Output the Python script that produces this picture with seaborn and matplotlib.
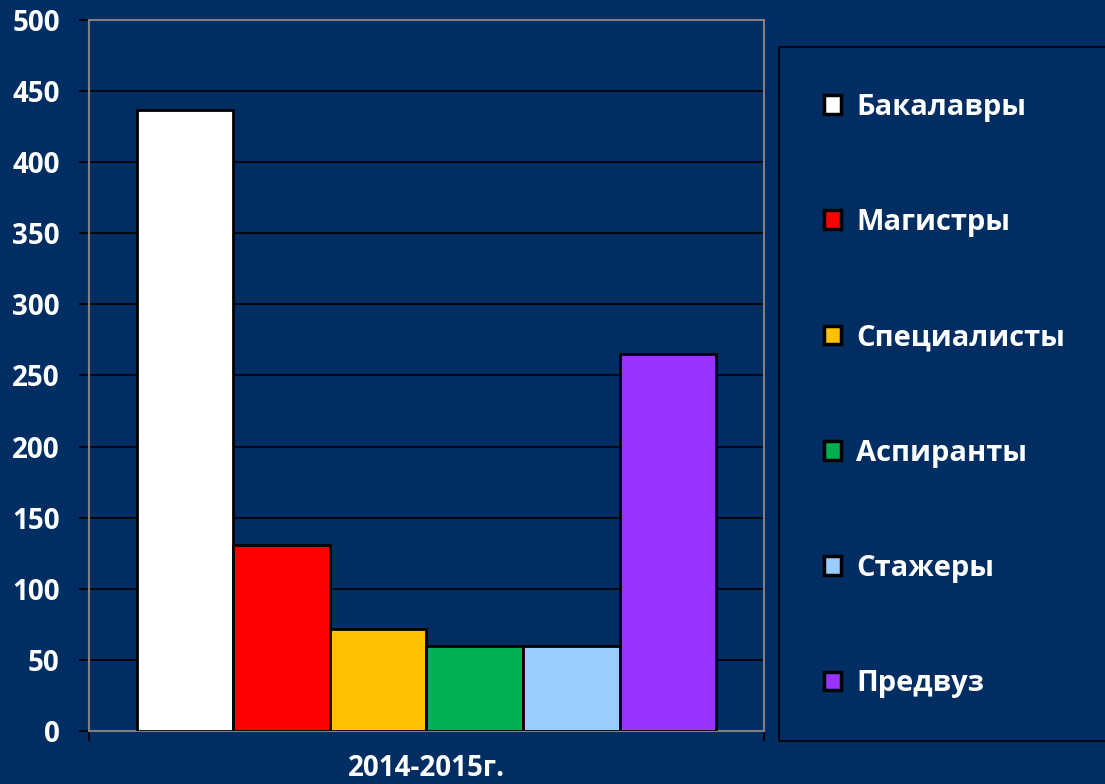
import seaborn as sns
import matplotlib.pyplot as plt
from matplotlib.patches import Patch, Rectangle
import pandas as pd

# данные
year = "2014-2015г."
categories = ["Бакалавры", "Магистры", "Специалисты", "Аспиранты", "Стажеры", "Предвуз"]
values = [437, 131, 72, 60, 60, 265]
colors = ["#FFFFFF", "#FF0000", "#FFC000", "#00B050", "#99CCFF", "#9933FF"]

bg = "#002E63"

sns.set_style("white")
plt.rcParams["font.family"] = ["Open Sans", "DejaVu Sans"]
plt.rcParams["font.weight"] = "bold"

df = pd.DataFrame({"year": [year] * len(categories), "cat": categories, "value": values})

fig = plt.figure(figsize=(11.05, 7.84), dpi=100, facecolor=bg)
ax = fig.add_axes([0.0805, 0.0676, 0.6109, 0.9069])
ax.set_facecolor(bg)

sns.barplot(data=df, x="year", y="value", hue="cat", hue_order=categories,
            palette=colors, saturation=1, width=0.858, edgecolor="black",
            linewidth=2, legend=False, ax=ax, zorder=3)

ax.set_xlim(-0.5, 0.5)
ax.set_ylim(0, 500)
ax.set_yticks(range(0, 501, 50))
ax.yaxis.grid(True, color="black", linewidth=1.2, zorder=0)
ax.set_axisbelow(True)
ax.set_xlabel("")
ax.set_ylabel("")

for s in ax.spines.values():
    s.set_color("#808080")
    s.set_linewidth(1.5)

ax.tick_params(axis="y", left=True, length=7, width=1.2, color="black",
               labelcolor="white", labelsize=20, pad=14)
ax.tick_params(axis="x", which="major", bottom=False, labelcolor="white",
               labelsize=20, pad=13)
ax.set_xticks([-0.5, 0.5], minor=True)
ax.tick_params(axis="x", which="minor", bottom=True, length=7, width=1.2, color="black")
for lab in ax.get_yticklabels() + ax.get_xticklabels():
    lab.set_fontweight("bold")

# легенда
handles = [Patch(facecolor=c, edgecolor="black", linewidth=2.5) for c in colors]
fig.legend(handles, categories, loc="center left", bbox_to_anchor=(0.7457, 0.4955),
           frameon=False, borderpad=0, borderaxespad=0, handlelength=0.6,
           handleheight=0.6, handletextpad=0.5, labelspacing=2.96,
           labelcolor="white", prop={"size": 21, "weight": "bold"})
fig.patches.append(Rectangle((0.705, 0.055), 0.4, 0.885, transform=fig.transFigure,
                             fill=False, edgecolor="black", linewidth=1.2))

fig.savefig("out.png", dpi=100, facecolor=bg)
